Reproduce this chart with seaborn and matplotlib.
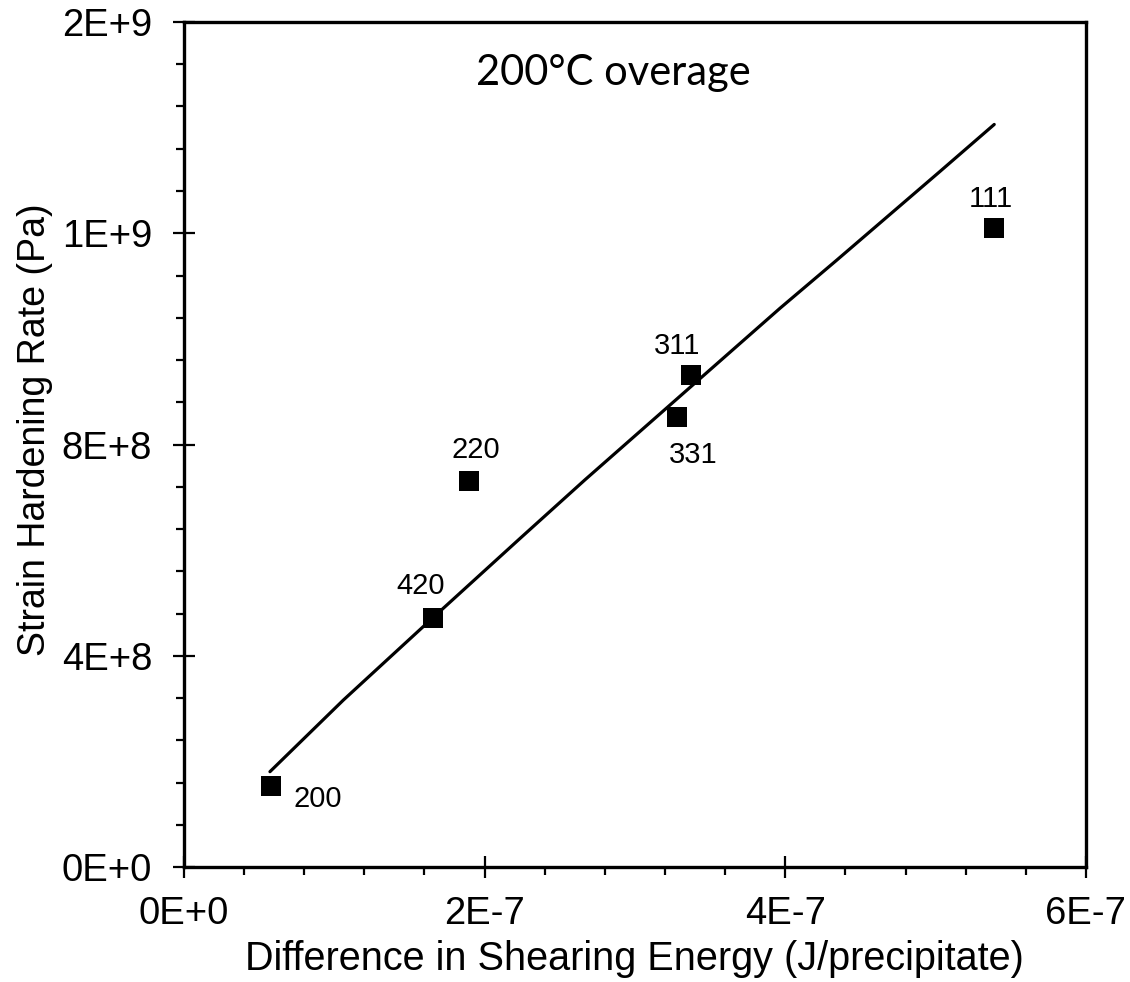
import pandas as pd
import seaborn as sns
import matplotlib.pyplot as plt
from matplotlib.ticker import FixedLocator, MultipleLocator

# === Seaborn settings ===
sns.set_style("ticks")
plt.rcParams['font.family'] = ['Liberation Sans', 'DejaVu Sans']
plt.rcParams.update({"text.color": "black", "axes.labelcolor": "black",
                     "xtick.color": "black", "ytick.color": "black"})

# === Data ===
planes = ["200", "420", "220", "331", "311", "111"]
shear_energy = [0.579e-7, 1.656e-7, 1.896e-7, 3.279e-7, 3.373e-7, 5.388e-7]
hardening_rate = [0.153e9, 0.4715e9, 0.731e9, 0.852e9, 0.931e9, 1.210e9]

# model line, read at points along the drawn curve
model_x = [0.572e-7, 1.060e-7, 1.656e-7, 2.235e-7, 2.667e-7, 3.965e-7, 4.342e-7, 5.029e-7, 5.390e-7]
model_y = [0.1805e9, 0.316e9, 0.472e9, 0.622e9, 0.733e9, 1.058e9, 1.149e9, 1.317e9, 1.406e9]

x_ticks = [0, 2e-7, 4e-7, 6e-7]
x_tick_labels = ["0E+0", "2E-7", "4E-7", "6E-7"]
y_ticks = [0, 4e8, 8e8, 1.2e9, 1.6e9]
y_tick_labels = ["0E+0", "4E+8", "8E+8", "1E+9", "2E+9"]

df = pd.DataFrame({"plane": planes, "energy": shear_energy, "rate": hardening_rate})
model = pd.DataFrame({"energy": model_x, "rate": model_y})

# label offsets (points) for each plane
offsets = {"200": (34, -9), "420": (-9, 23), "220": (5, 22),
           "331": (12, -27), "311": (-10, 21), "111": (-2, 21)}

# === Plot ===
fig = plt.figure(figsize=(11.3, 9.82), dpi=100)
ax = fig.add_axes([0.1628, 0.1171, 0.7982, 0.8605])

sns.lineplot(data=model, x="energy", y="rate", color="black", lw=2.3,
             sort=False, estimator=None, ax=ax)
sns.scatterplot(data=df, x="energy", y="rate", marker="s", s=205,
                color="black", edgecolor="black", linewidth=0, ax=ax, zorder=3)

for _, row in df.iterrows():
    ax.annotate(row["plane"], (row["energy"], row["rate"]),
                xytext=offsets[row["plane"]], textcoords="offset points",
                ha="center", va="center", fontsize=21)

ax.text(0.4756, 0.9254, "200°C overage", transform=ax.transAxes,
        ha="center", va="baseline", fontsize=30, family=["Lato", "DejaVu Sans"])

# === Axes ===
ax.set_xlim(0, 6e-7)
ax.set_ylim(0, 1.6e9)
ax.xaxis.set_major_locator(FixedLocator(x_ticks))
ax.yaxis.set_major_locator(FixedLocator(y_ticks))
ax.set_xticklabels(x_tick_labels)
ax.set_yticklabels(y_tick_labels)
ax.xaxis.set_minor_locator(MultipleLocator(4e-8))
ax.yaxis.set_minor_locator(MultipleLocator(8e7))
ax.tick_params(which="major", direction="inout", length=16, width=1.6,
               labelsize=27.5)
ax.tick_params(axis="x", which="major", pad=13)
ax.tick_params(axis="y", which="major", pad=15)
ax.tick_params(which="minor", direction="out", length=6, width=1.6)
for sp in ax.spines.values():
    sp.set_linewidth(2.4)
    sp.set_color("black")

ax.set_xlabel("Difference in Shearing Energy (J/precipitate)", fontsize=28.5, va="center")
ax.xaxis.set_label_coords(0.4995, -0.109)
ax.set_ylabel("Strain Hardening Rate (Pa)", fontsize=27, va="center")
ax.yaxis.set_label_coords(-0.165, 0.518)

fig.savefig("out.png", dpi=100)
